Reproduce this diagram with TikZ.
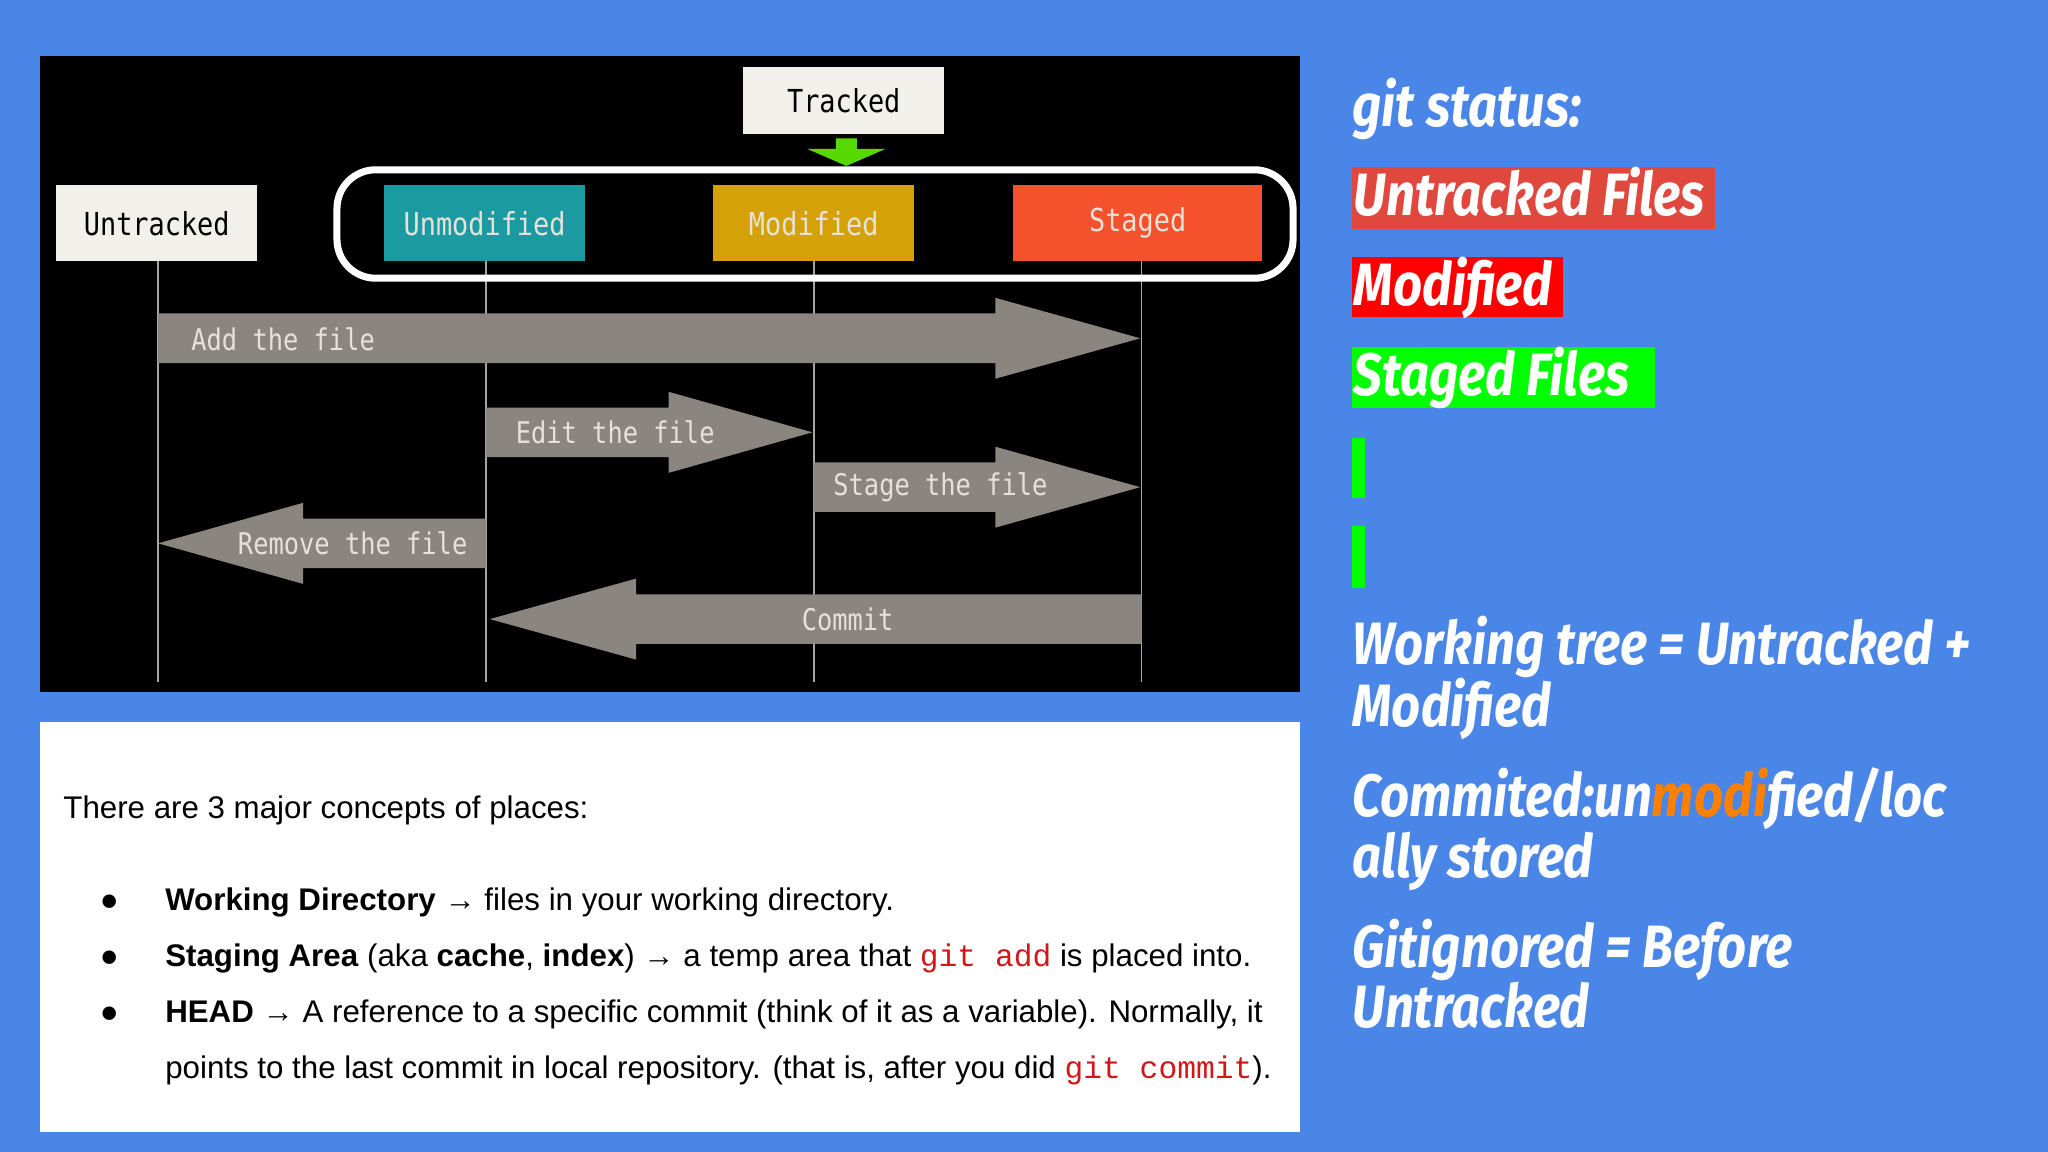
\documentclass[tikz,border=0pt]{standalone}
\usepackage{fontspec}
\setmainfont{Liberation Sans}
\newfontfamily\rfont[FakeStretch=0.85]{Fira Sans}
\newfontfamily\mfont[FakeStretch=0.85]{DejaVu Sans Mono}
\newfontfamily\cfont{Liberation Mono}
\usetikzlibrary{arrows.meta}
\definecolor{bgblue}{HTML}{4A86E8}
\definecolor{arrgray}{HTML}{8A857E}
\definecolor{lbl}{HTML}{E6E2DA}
\definecolor{teal1}{HTML}{1B9AA2}
\definecolor{gold1}{HTML}{D4A106}
\definecolor{stg}{HTML}{F4512C}
\definecolor{boxw}{HTML}{F1F0EA}
\definecolor{utf}{HTML}{E0483E}
\definecolor{codered}{HTML}{D01818}
\begin{document}
\begin{tikzpicture}[x=0.013061cm,y=-0.013061cm,
  stbox/.style={minimum width=154*0.013061cm,minimum height=58*0.013061cm,inner sep=0pt,font=\mfont\fontsize{9}{10}\selectfont},
  vline/.style={draw=gray!70,line width=0.5pt},
  rt/.style={anchor=base west,inner sep=0pt,text=white,font=\rfont\bfseries\itshape\fontsize{17}{20}\selectfont},
  hl/.style={rt},
  bt/.style={anchor=base west,inner sep=0pt,font=\fontsize{8.9}{11}\selectfont},
  al/.style={text=lbl,font=\mfont\fontsize{8.5}{10}\selectfont,inner sep=0pt}]
\fill[bgblue] (0,0) rectangle (1568,882);
\useasboundingbox (0,0) rectangle (1568,882);
\fill[black] (31,43) rectangle (995,530);
\fill[white] (31,553) rectangle (995,867);
% vertical lines
\foreach \x in {121,372,623,874} \draw[vline] (\x,200) -- (\x,522);
% arrows
\fill[arrgray] (121,240) -- (762,240) -- (762,228) -- (873,259) -- (762,290) -- (762,278) -- (121,278) -- cycle;
\fill[arrgray] (372,312) -- (512,312) -- (512,300) -- (622,331) -- (512,362) -- (512,350) -- (372,350) -- cycle;
\fill[arrgray] (623,354) -- (762,354) -- (762,342) -- (873,373) -- (762,404) -- (762,392) -- (623,392) -- cycle;
\fill[arrgray] (372,397) -- (232,397) -- (232,385) -- (121,416) -- (232,447) -- (232,435) -- (372,435) -- cycle;
\fill[arrgray] (874,455) -- (487,455) -- (487,443) -- (375,474) -- (487,505) -- (487,493) -- (874,493) -- cycle;
\node[al,anchor=west] (l1) at (146,260) {Add the file};
\node[al] (l2) at (471,331) {Edit the file};
\node[al] (l3) at (720,373) {Stage the file};
\node[al] (l4) at (270,416) {Remove the file};
\node[al] (l5) at (649,474) {Commit};
% tracked group
\draw[white,line width=2pt,rounded corners=11pt] (258,130) rectangle (990,213);
\node[stbox,fill=boxw,text=black] (ut) at (120,171) {Untracked};
\node[stbox,fill=teal1,text=lbl] (um) at (371,171) {Unmodified};
\node[stbox,fill=gold1,text=lbl] (mo) at (623,171) {Modified};
\node[stbox,fill=stg,text=lbl,minimum width=191*0.013061cm] (st) at (871,171) {Staged};
\node[stbox,fill=boxw,text=black,minimum height=51*0.013061cm] (tr) at (646,77) {Tracked};
\fill[green!60!yellow!85!black] (640,106) -- (656,106) -- (656,114) -- (678,114) -- (648,127) -- (618,114) -- (640,114) -- cycle;
% right text
\node[rt] (gs) at (1035,97) {git status:};
\fill[utf] (1035,128) rectangle (1313,175);
\node[hl] (uf) at (1036,165) {Untracked Files};
\fill[red] (1035,197) rectangle (1197,243);
\node[hl] (mf) at (1036,234) {Modified};
\fill[green] (1035,266) rectangle (1267,312);
\node[hl] (sf) at (1036,303) {Staged Files};
\fill[green] (1035,335) rectangle (1045,381);
\fill[green] (1035,403) rectangle (1045,450);
\node[rt] (w1) at (1035,509) {Working tree = Untracked +};
\node[rt] (w2) at (1035,556) {Modified};
\node[rt] (c1) at (1035,625) {Commited:un\textcolor{orange}{modi}fied/loc};
\node[rt] (c2) at (1035,672) {ally stored};
\node[rt] (g1) at (1035,741) {Gitignored = Before};
\node[rt] (g2) at (1035,787) {Untracked};
% bottom text
\node[bt] (t0) at (48,627) {There are 3 major concepts of places:};
\foreach \y in {697,740,783} \node[bt] at (76,\y) {●};
\node[bt] (b1) at (126,697) {\textbf{Working Directory} → files in your working directory.};
\node[bt] (b2) at (126,740) {\textbf{Staging Area} (aka \textbf{cache}, \textbf{index}) → a temp area that \textcolor{codered}{\cfont git add} is placed into.};
\node[bt] (b3) at (126,783) {\textbf{HEAD} → A reference to a specific commit (think of it as a variable). Normally, it};
\node[bt] (b4) at (126,826) {points to the last commit in local repository. (that is, after you did \textcolor{codered}{\cfont git commit}).};
\end{tikzpicture}
\end{document}
